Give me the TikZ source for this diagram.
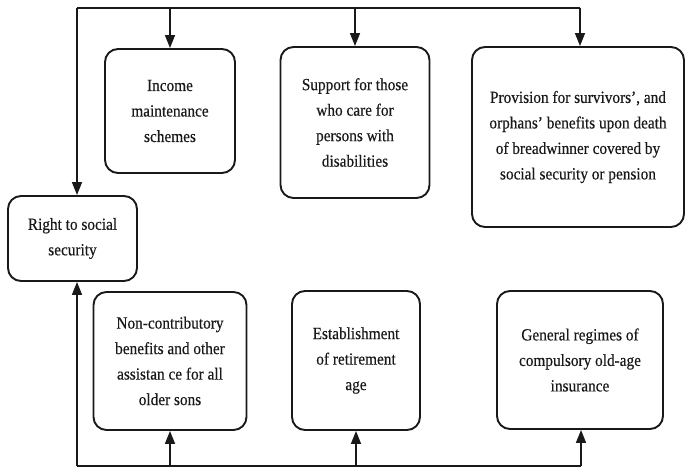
\documentclass[tikz,border=0pt]{standalone}
\usepackage{fontspec}
\setmainfont{Liberation Serif}
\newfontfamily\boxfont[Ligatures=TeX,FakeStretch=0.9,FakeBold=0.4]{Liberation Serif}
\usetikzlibrary{arrows.meta}
\definecolor{ink}{RGB}{25,25,25}
\tikzset{
  box/.style={draw=ink, line width=1.9pt, rounded corners=13pt, align=center,
    text=ink, inner sep=2pt,
    font=\boxfont\fontsize{17pt}{25.5pt}\selectfont},
  link/.style={draw=ink, line width=1.4pt},
  arr/.style={link, -{Triangle[length=13pt,width=10pt]}}
}
\begin{document}
\begin{tikzpicture}[x=1pt,y=-1pt]
  \useasboundingbox (0,0) rectangle (686,470);

  % upper row
  \node[box, minimum width=130pt, minimum height=124pt] (income) at (170,111)
    {Income\\maintenance\\schemes};
  \node[box, minimum width=149pt, minimum height=151pt] (support) at (355,122.5)
    {Support for those\\who care for\\persons with\\disabilities};
  \node[box, minimum width=212pt, minimum height=180pt] (provision) at (578,137)
    {Provision for survivors’, and\\orphans’ benefits upon death\\of breadwinner covered by\\social security or pension};

  % central right
  \node[box, minimum width=129pt, minimum height=85pt] (right) at (72.5,238.5)
    {Right to social\\security};

  % lower row
  \node[box, minimum width=153pt, minimum height=138pt] (noncontrib) at (170,361)
    {Non-contributory\\benefits and other\\assistan ce for all\\older sons};
  \node[box, minimum width=128pt, minimum height=139pt] (retire) at (356,360.5)
    {Establishment\\of retirement\\age};
  \node[box, minimum width=166pt, minimum height=138pt] (general) at (580,360)
    {General regimes of\\compulsory old-age\\insurance};

  % bus corners
  \coordinate (tl) at (77,8);
  \coordinate (tr) at (580,8);
  \coordinate (bl) at (77,466);
  \coordinate (br) at (581,466);

  % top distribution line
  \draw[link] (tl) -- (tr);
  \draw[arr] (tl) -- (right.north -| tl);
  \draw[arr] (income.north |- tl) -- (income.north);
  \draw[arr] (support.north |- tl) -- (support.north);
  \draw[arr] (tr) -- (provision.north -| tr);

  % bottom distribution line
  \draw[link] (bl) -- (br);
  \draw[arr] (bl) -- (right.south -| bl);
  \draw[arr] (noncontrib.south |- bl) -- (noncontrib.south);
  \draw[arr] (retire.south |- bl) -- (retire.south);
  \draw[arr] (br) -- (general.south -| br);
\end{tikzpicture}
\end{document}
